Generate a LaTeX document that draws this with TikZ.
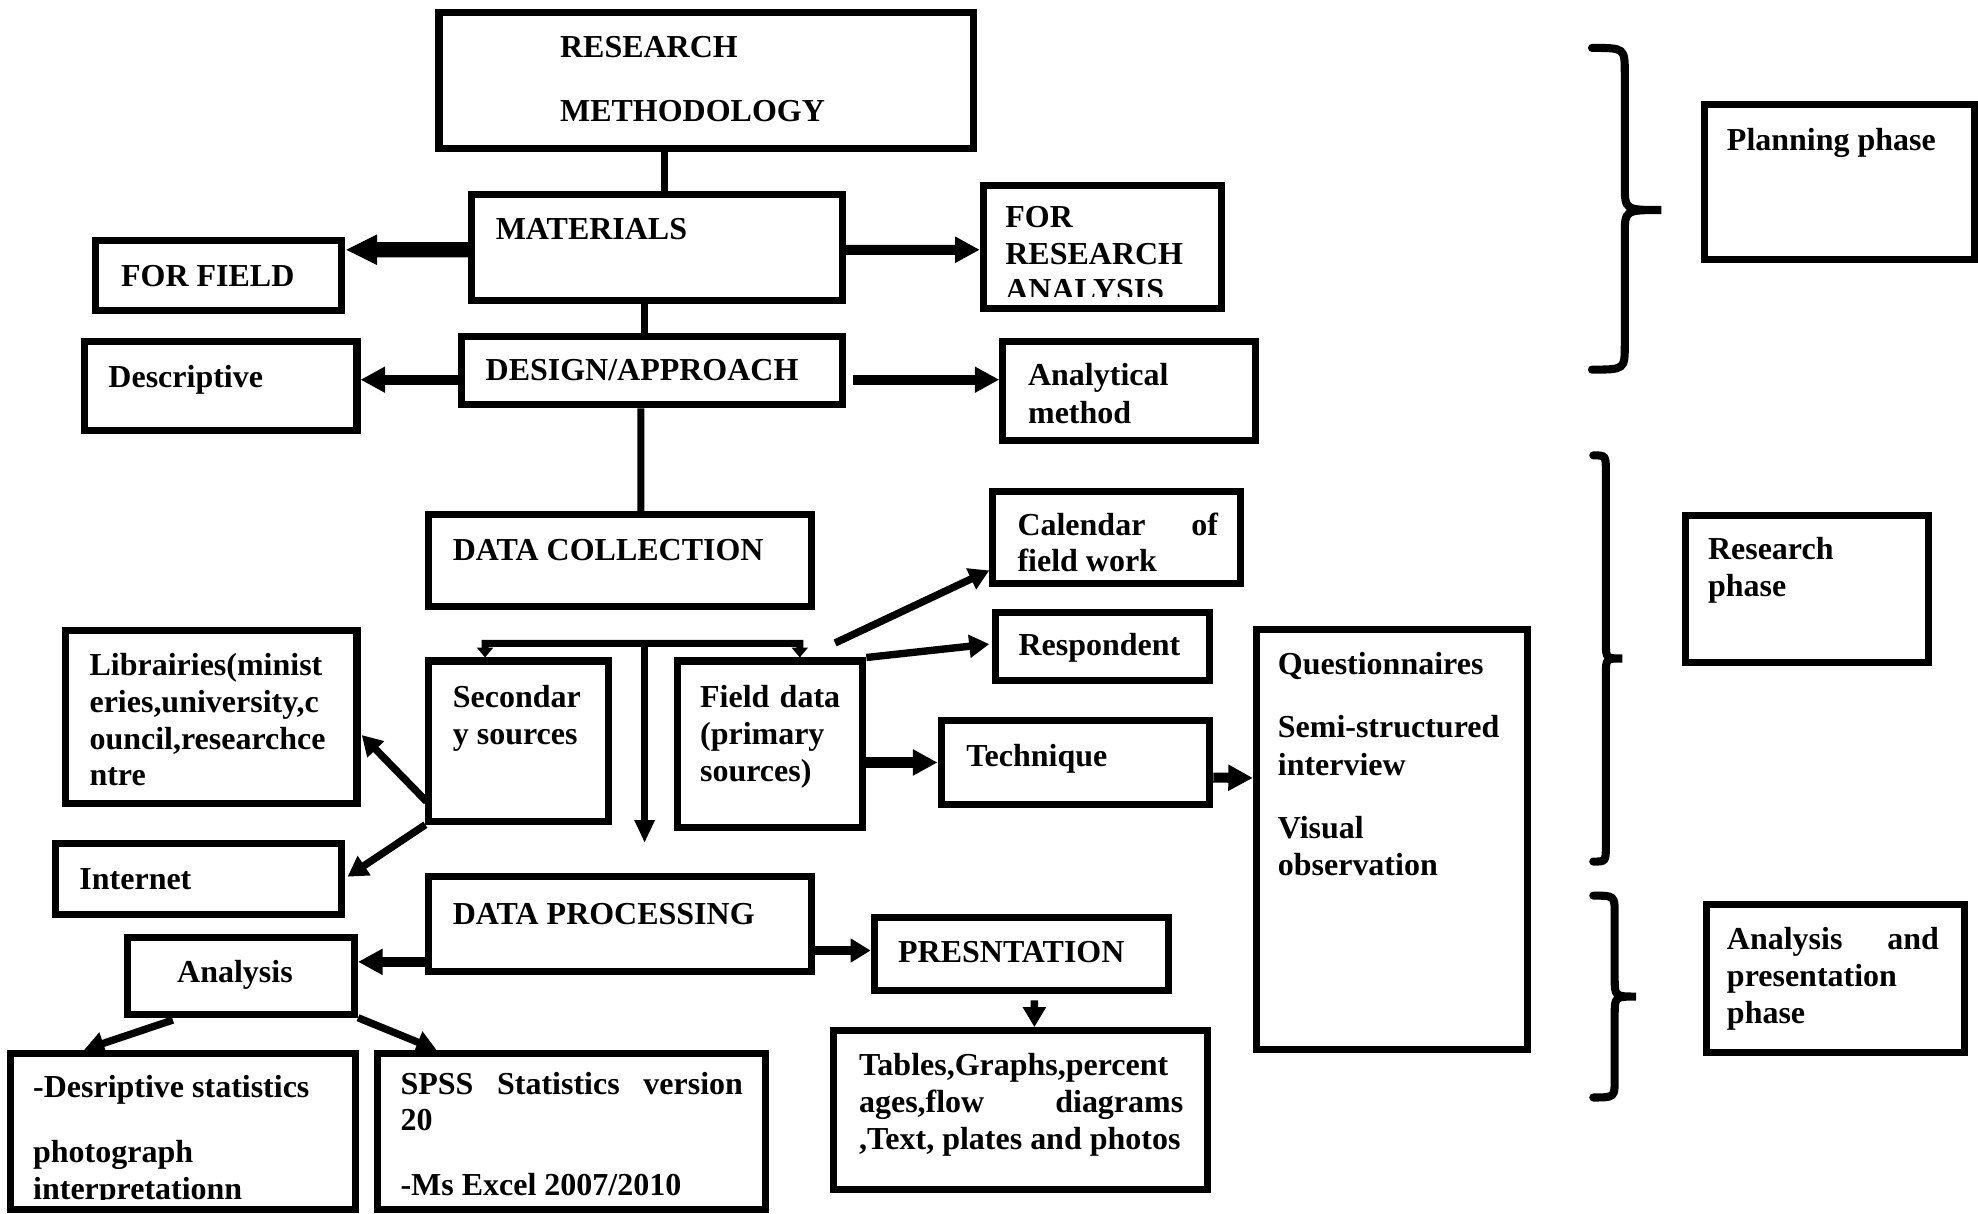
\documentclass[tikz,border=0pt]{standalone}
\usepackage{fontspec}
\setmainfont{Liberation Serif}
\usetikzlibrary{arrows.meta,calc,fit}
\newlength{\un}\setlength{\un}{0.12615mm}
% curly brace: start x, stem x, tip x, top y, middle y, bottom y, bend
\newcommand{\phasebrace}[7]{%
  \draw[brace] (#1,#4) .. controls (#2,#4) .. (#2,#4+#7) -- (#2,#5-#7)
    .. controls (#2,#5) .. (#3,#5) .. controls (#2,#5) .. (#2,#5+#7)
    -- (#2,#6-#7) .. controls (#2,#6) .. (#1,#6);}
\begin{document}
\begin{tikzpicture}[x=0.12615mm,y=-0.12615mm,
  box/.style={draw,line width=2pt,inner sep=0pt,rectangle},
  txt/.style={anchor=base west,inner sep=0pt,outer sep=0pt,yshift=-0.25mm,
    font=\fontsize{9.1pt}{10.5pt}\selectfont\bfseries},
  ln/.style={line width=2pt},
  fat/.style={line width=4.3pt,-{Triangle[length=9pt,width=8pt]}},
  wide/.style={line width=2.85pt,-{Triangle[length=7pt,width=7pt]}},
  med/.style={line width=2.3pt,-{Triangle[length=5.7pt,width=6.5pt]}},
  arr/.style={line width=2.1pt,-{Triangle[length=5.7pt,width=6.3pt]}},
  down/.style={line width=2pt,-{Triangle[length=6.5pt,width=5.4pt]}},
  tiny/.style={line width=2pt,line join=miter,
    {Triangle[length=2.8pt,width=4.5pt]}-{Triangle[length=2.8pt,width=4.5pt]}},
  brace/.style={line width=2.3pt,line cap=round}]
\useasboundingbox (0,0) rectangle (1568,962);

% ---- boxes ----
\node[box,fit={(348,10) (772,118)}] (rm) {};
\node[box,fit={(374,154) (668,238)}] (mat) {};
\node[box,fit={(76,191) (271,246)}] (ff) {};
\node[box,fit={(779.5,146.7) (968.5,244.5)}] (fra) {};
\node[box,fit={(366,267) (668,321)}] (des) {};
\node[box,fit={(67,271) (283,341)}] (dsc) {};
\node[box,fit={(795,271) (995,349)}] (ana) {};
\node[box,fit={(340,408) (643,481)}] (dc) {};
\node[box,fit={(340,524) (482,651)}] (sec) {};
\node[box,fit={(537,524) (684,656)}] (fd) {};
\node[box,fit={(52,500) (283,637)}] (lib) {};
\node[box,fit={(44,669) (271,725)}] (int) {};
\node[box,fit={(787,389.8) (983.6,462.4)}] (cal) {};
\node[box,fit={(789,485.4) (959,539.8)}] (resp) {};
\node[box,fit={(746,571.5) (959,637.4)}] (tech) {};
\node[box,fit={(996,499.4) (1211,832)}] (q) {};
\node[box,fit={(340,695) (643,770)}] (dp) {};
\node[box,fit={(101,743) (281,804)}] (anl) {};
\node[box,fit={(693,727) (926,785)}] (pres) {};
\node[box,fit={(8,835) (282,959)}] (dst) {};
\node[box,fit={(299,835) (607,959)}] (spss) {};
\node[box,fit={(661,817) (957,943)}] (tbl) {};
\node[box,fit={(1351,83) (1565,206)}] (plan) {};
\node[box,fit={(1336,408.6) (1528.4,525.3)}] (rph) {};
\node[box,fit={(1353,717) (1557,834.5)}] (aph) {};

% ---- texts ----
\node[txt] (t1) at (444,43.6) {RESEARCH};
\node[txt] (t2) at (444,94) {METHODOLOGY};
\node[txt] (t3) at (393,188) {MATERIALS};
\node[txt] (t4) at (96,225) {FOR FIELD};
\node[txt] (t5) at (797,178.5) {FOR};
\node[txt] (t6) at (797,207.5) {RESEARCH};
\begin{scope}
  \clip (fra.north west) rectangle ($(fra.south east)+(0,-12)$);
  \node[txt] (t7) at (797,236.5) {ANALYSIS};
\end{scope}
\node[txt] (t8) at (385,300) {DESIGN/APPROACH};
\node[txt] (t9) at (86,305) {Descriptive};
\node[txt] (t10) at (815,304) {Analytical};
\node[txt] (t11) at (815,333.5) {method};
\node[txt] (t12) at (359,442) {DATA COLLECTION};
\node[txt] (t13) at (71,533.7) {Librairies(minist};
\node[txt] (t14) at (71,563) {eries,university,c};
\node[txt] (t15) at (71,592) {ouncil,researchce};
\node[txt] (t16) at (71,621) {ntre};
\node[txt] (t17) at (359,559) {Secondar};
\node[txt] (t18) at (359,588) {y sources};
\node[txt] (t19) at (555,559) {\hbox to 111\un{Field\hfill data}};
\node[txt] (t20) at (555,588.5) {(primary};
\node[txt] (t21) at (555,617.5) {sources)};
\node[txt] (t22) at (806.6,422.7) {\hbox to 159\un{Calendar\hfill of}};
\node[txt] (t23) at (806.6,451) {field work};
\node[txt] (t24) at (807.5,518) {Respondent};
\node[txt] (t25) at (766,606) {Technique};
\node[txt] (t26) at (1013,532.4) {Questionnaires};
\node[txt] (t27) at (1013,583) {Semi-structured};
\node[txt] (t28) at (1013,613) {interview};
\node[txt] (t29) at (1013,662.5) {Visual};
\node[txt] (t30) at (1013,692) {observation};
\node[txt] (t31) at (63,703) {Internet};
\node[txt] (t32) at (359,730.6) {DATA PROCESSING};
\node[txt] (t33) at (140.5,777) {Analysis};
\node[txt] (t34) at (712,761) {PRESNTATION};
\node[txt] (t35) at (26.3,868) {-Desriptive statistics};
\node[txt] (t36) at (26.3,919.5) {photograph};
\begin{scope}
  \clip (dst.north west) rectangle ($(dst.south east)+(0,-10.8)$);
  \node[txt] (t37) at (26.3,949) {interpretationn};
\end{scope}
\node[txt] (t38) at (317.5,865.4) {\hbox to 271.5\un{SPSS\hfill Statistics\hfill version}};
\node[txt] (t39) at (317.5,894.5) {20};
\node[txt] (t40) at (317.5,946) {-Ms Excel 2007/2010};
\node[txt] (t41) at (681,850.7) {Tables,Graphs,percent};
\node[txt] (t42) at (681,880) {\hbox to 257\un{ages,flow\hfill diagrams}};
\node[txt] (t43) at (681,909.3) {,Text, plates and photos};
\node[txt] (t44) at (1369,117.6) {Planning phase};
\node[txt] (t45) at (1354,441.7) {Research};
\node[txt] (t46) at (1354,471) {phase};
\node[txt] (t47) at (1369,750.4) {\hbox to 168\un{Analysis\hfill and}};
\node[txt] (t48) at (1369,779.7) {presentation};
\node[txt] (t49) at (1369,809) {phase};

% ---- connectors ----
\draw[ln] ($(rm.south)+(-33,0)$) -- ($(mat.north)+(6,0)$);
\draw[fat] ($(mat.west)+(0,2)$) -- ($(ff.east)+(0,-20.5)$);
\draw[wide] ($(mat.east)+(0,2)$) -- ($(fra.west)+(0,2.4)$);
\draw[ln] ($(mat.south)+(-10,0)$) -- ($(des.north)+(-6,0)$);
\draw[wide] ($(des.west)+(0,7)$) -- ($(dsc.east)+(0,-5)$);
\draw[wide] ($(des.east)+(5.2,7)$) -- ($(ana.west)+(0,-9)$);
\draw[ln] ($(des.south)+(-9,0)$) -- ($(dc.north)+(16.5,0)$);

% split of the collected data
\coordinate (bl) at ($(sec.north)+(-26.5,-11.2)$);
\coordinate (br) at ($(fd.north)+(23.5,-11.2)$);
\coordinate (brk) at ($(dc.south)+(19.5,26.2)$);
\draw[tiny] (bl |- sec.north) -- (bl) -- (br) -- (br |- fd.north);
\draw[down] (brk) -- ($(dp.north)+(19.5,-24)$);

\draw[arr] ($(sec.south west)+(1,-18.3)$) -- ($(lib.east)+(1,14.2)$);
\draw[arr] (sec.south west) -- ($(int.east)+(1.7,-2)$);
\draw[arr] ($(fd.north)+(51.5,-11.5)$) -- ($(cal.south west)+(0,-13)$);
\draw[arr] (fd.north east) -- ($(resp.west)+(-2,-2)$);
\draw[wide] (fd.east |- tech.west) -- (tech.west);
\draw[wide] ($(tech.east)+(0,12)$) -- ($(q.west)+(0,-49)$);

\draw[wide] ($(dp.west)+(0,30)$) -- ($(anl.east)+(0,-11)$);
\draw[med] ($(dp.east)+(0,21)$) -- ($(pres.west)+(0,-2.5)$);
\draw[arr] ($(anl.south west)+(38.8,1.8)$) -- ($(dst.north west)+(61.5,0)$);
\draw[arr] (anl.south east) -- ($(spss.north west)+(49.8,0)$);
\draw[arr] ($(pres.south)+(10.5,5.2)$) -- ($(tbl.north)+(11,0)$);

% ---- phase braces ----
\phasebrace{1262}{1288}{1317}{38}{166.5}{293}{20}
\phasebrace{1263}{1273}{1286}{361}{522}{683}{13}
\phasebrace{1263}{1280}{1297}{710}{790}{870}{15}
\end{tikzpicture}
\end{document}
